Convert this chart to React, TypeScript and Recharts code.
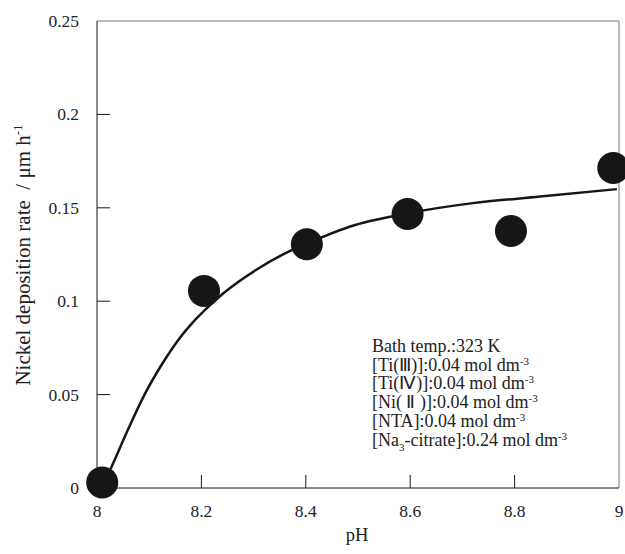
import React from "react";
import {
  ComposedChart,
  Line,
  Scatter,
  XAxis,
  YAxis,
  ReferenceLine,
} from "recharts";

// measured points
const phValues = [8.01, 8.205, 8.402, 8.595, 8.793, 8.989];
const rateValues = [0.003, 0.1055, 0.1305, 0.1467, 0.1376, 0.1713];

// fitted curve
const curvePh = [8.012, 8.025, 8.059, 8.092, 8.125, 8.155, 8.188, 8.213, 8.241, 8.306, 8.37, 8.433, 8.485, 8.594, 8.72, 8.849, 8.996];
const curveRate = [0.002, 0.0096, 0.031, 0.0505, 0.0665, 0.079, 0.09, 0.097, 0.104, 0.117, 0.127, 0.1345, 0.14, 0.147, 0.1525, 0.156, 0.16];

const xTicks = [8, 8.2, 8.4, 8.6, 8.8, 9];
const yTicks = [0, 0.05, 0.1, 0.15, 0.2, 0.25];

const points = phValues.map((ph, i) => ({ ph, rate: rateValues[i] }));
const curve = curvePh.map((ph, i) => ({ ph, fit: curveRate[i] }));

const FONT = '"Liberation Serif", "Times New Roman", serif';
const INK = "#161616";

const XTick = (props: any) => {
  const { x, y, payload } = props;
  return (
    <g>
      {payload.value !== 8 && payload.value !== 9 && (
        <line x1={x} y1={y} x2={x} y2={y - 13} stroke={INK} strokeWidth={1} />
      )}
      <text x={x} y={y + 29} textAnchor="middle" fontFamily={FONT} fontSize={17.5} fill="#222">
        {payload.value}
      </text>
    </g>
  );
};

const YTick = (props: any) => {
  const { x, y, payload } = props;
  return (
    <g>
      {payload.value !== 0 && payload.value !== 0.25 && (
        <line x1={x} y1={y} x2={x + 13} y2={y} stroke={INK} strokeWidth={1} />
      )}
      <text x={x - 18} y={y + 6} textAnchor="end" fontFamily={FONT} fontSize={17.5} fill="#222">
        {payload.value}
      </text>
    </g>
  );
};

const Dot = (props: any) => {
  const { cx, cy } = props;
  return <circle cx={cx} cy={cy} r={16} fill={INK} />;
};

const sup = <tspan dy={-6} fontSize={11}>-3</tspan>;

const notes: Array<React.ReactNode> = [
  <>Bath temp.:323 K</>,
  <>[Ti(Ⅲ)]:0.04 mol dm{sup}</>,
  <>[Ti(Ⅳ)]:0.04 mol dm{sup}</>,
  <>[Ni( Ⅱ )]:0.04 mol dm{sup}</>,
  <>[NTA]:0.04 mol dm{sup}</>,
  <>
    [Na<tspan dy={5} fontSize={11}>3</tspan>
    <tspan dy={-5}>-citrate]:0.24 mol dm</tspan>
    {sup}
  </>,
];

export default function App() {
  return (
    <div style={{ position: "absolute", left: 0, top: 0, background: "#fff" }}>
      <ComposedChart
        width={625}
        height={554}
        margin={{ top: 21, right: 6, bottom: 65, left: 96 }}
      >
        <XAxis
          type="number"
          dataKey="ph"
          domain={[8, 9]}
          ticks={xTicks}
          height={1}
          tickLine={false}
          tickSize={0}
          tickMargin={0}
          axisLine={{ stroke: INK, strokeWidth: 1 }}
          tick={<XTick />}
          interval={0}
          allowDuplicatedCategory={false}
        />
        <YAxis
          type="number"
          domain={[0, 0.25]}
          ticks={yTicks}
          width={1}
          tickLine={false}
          tickSize={0}
          tickMargin={0}
          axisLine={{ stroke: INK, strokeWidth: 1 }}
          tick={<YTick />}
          interval={0}
        />
        <ReferenceLine y={0.25} stroke="#777" strokeWidth={1} />
        <ReferenceLine x={9} stroke="#777" strokeWidth={1} />
        <Line
          data={curve}
          dataKey="fit"
          type="monotone"
          stroke={INK}
          strokeWidth={2.5}
          dot={false}
          activeDot={false}
          isAnimationActive={false}
        />
        <Scatter
          data={points}
          dataKey="rate"
          shape={<Dot />}
          isAnimationActive={false}
        />
        <text
          transform="translate(30, 255) rotate(-90)"
          textAnchor="middle"
          fontFamily={FONT}
          fontSize={21}
          fill="#222"
        >
          {"Nickel deposition rate\u00a0\u00a0/ μm h"}
          <tspan dy={-8} fontSize={13}>-1</tspan>
        </text>
        <text x={357} y={541} textAnchor="middle" fontFamily={FONT} fontSize={18.5} fill="#222">
          pH
        </text>
        <g fontFamily={FONT} fontSize={18} fill="#222">
          {notes.map((n, i) => (
            <text key={i} x={372} y={352 + i * 18.7}>
              {n}
            </text>
          ))}
        </g>
      </ComposedChart>
    </div>
  );
}
